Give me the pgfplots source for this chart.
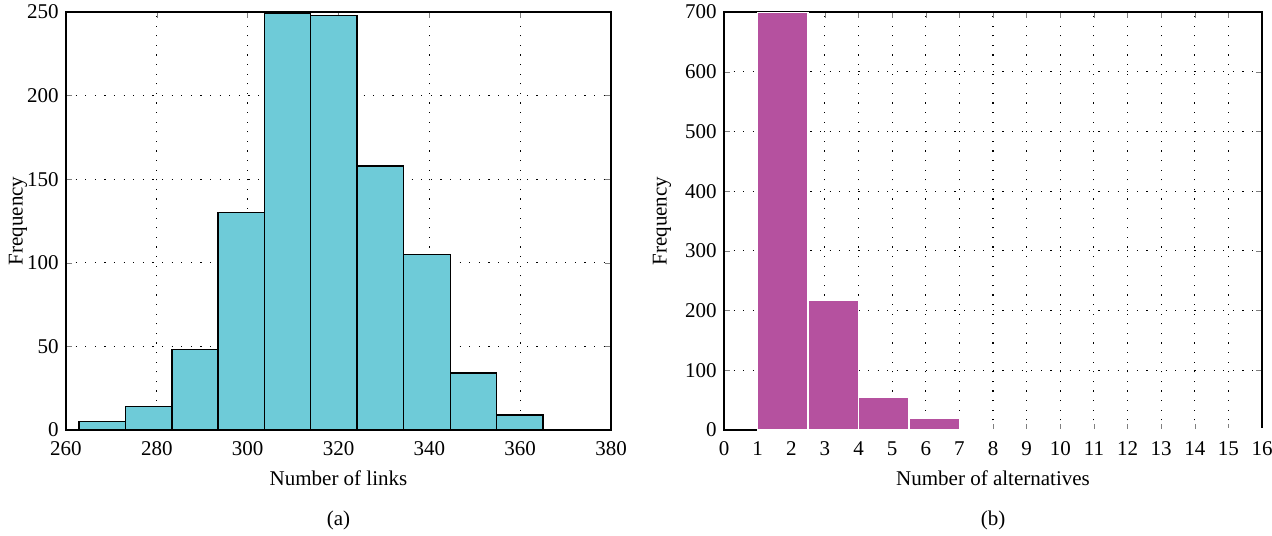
\documentclass[border=0pt]{standalone}
\usepackage{fontspec}
\setmainfont{Liberation Serif}
\usepackage{pgfplots}
\pgfplotsset{compat=1.18}
\definecolor{cyanbar}{RGB}{110,203,216}
\definecolor{magbar}{RGB}{181,81,159}
\begin{document}
\fontsize{10.5}{12}\selectfont
\begin{tikzpicture}
\useasboundingbox (-33pt,-52.5pt) rectangle (603pt,215pt);
\pgfplotsset{
  every axis/.append style={
    scale only axis,
    clip=false,
    height=209pt,
    tick align=inside,
    xtick pos=both, ytick pos=both,
    grid=major,
    major grid style={black, line width=0.6pt, dash pattern=on 0.6pt off 4.2pt},
    axis line style={line width=0.6pt},
    major tick length=3pt,
    /pgf/number format/assume math mode=true,
    ticklabel style={font=\fontsize{10.5}{12}\selectfont},
    xticklabel style={yshift=-2pt},
    label style={font=\fontsize{10.5}{12}\selectfont},
    ymin=0,
  }
}
\begin{axis}[
  width=272.5pt,
  xmin=260, xmax=380,
  ymax=250,
  xtick={260,280,...,380},
  ytick={0,50,...,250},
  xlabel={Number of links},
  ylabel={Frequency},
  xlabel style={at={(axis description cs:0.5,0)}, yshift=-24pt, anchor=center},
  ylabel style={at={(axis description cs:0,0.5)}, yshift=24pt, anchor=center},
]
\addplot[ybar interval, fill=cyanbar, draw=black, line width=0.7pt] coordinates {
  (262.9,5) (273.1,14) (283.3,48) (293.5,130) (303.7,249) (313.9,248)
  (324.1,158) (334.3,105) (344.6,34) (354.8,9) (365.0,9)
};
\node[anchor=center] at (rel axis cs:0.5,0) [yshift=-45pt] {(a)};
\end{axis}
\begin{axis}[
  xshift=329pt,
  width=269pt,
  xmin=0, xmax=16,
  ymax=700,
  xtick={0,1,...,16},
  ytick={0,100,...,700},
  xlabel={Number of alternatives},
  ylabel={Frequency},
  xlabel style={at={(axis description cs:0.5,0)}, yshift=-24pt, anchor=center},
  ylabel style={at={(axis description cs:0,0.5)}, yshift=31pt, anchor=center},
]
\addplot[ybar interval, fill=magbar, draw=white, line width=0.6pt] coordinates {
  (1,699) (2.5,217) (4,54) (5.5,19) (7,0) (8.5,1) (10,0) (11.5,0) (13,0) (14.5,2) (16,2)
};
\node[anchor=center] at (rel axis cs:0.5,0) [yshift=-45pt] {(b)};
\end{axis}
\end{tikzpicture}
\end{document}
